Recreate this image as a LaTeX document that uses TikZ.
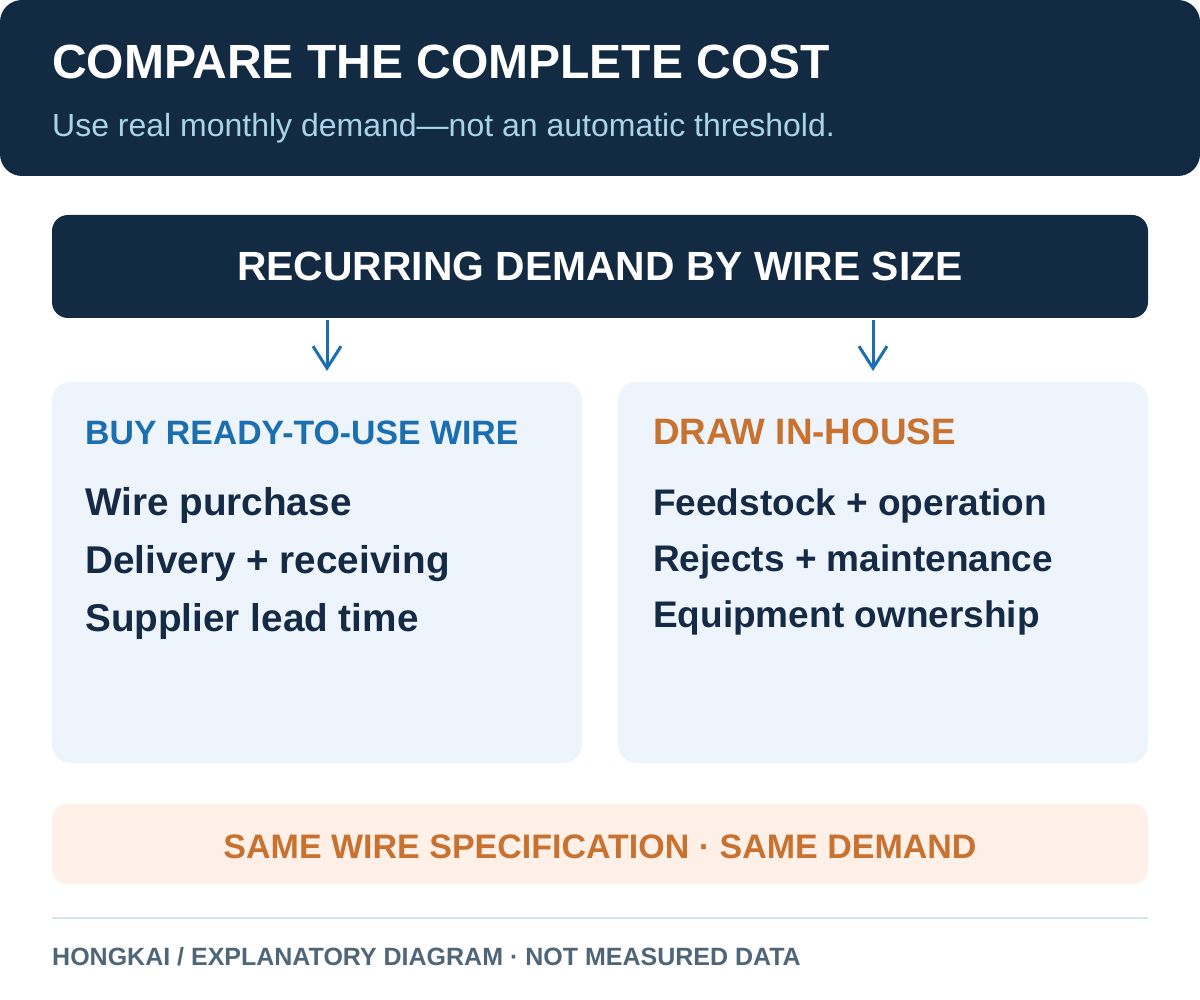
\documentclass[tikz,border=0pt]{standalone}
\usepackage{fontspec}
\setmainfont{Liberation Sans}
\usetikzlibrary{arrows.meta}
\usetikzlibrary{positioning}
\definecolor{mnavy}{HTML}{132A43}
\definecolor{msub}{HTML}{A8D4EA}
\definecolor{mblue}{HTML}{1B6FB0}
\definecolor{morange}{HTML}{C87232}
\definecolor{mtext}{HTML}{152B45}
\definecolor{mpanel}{HTML}{EEF4FB}
\definecolor{mpeach}{HTML}{FEF0E6}
\definecolor{mrule}{HTML}{D6E4EE}
\definecolor{mfoot}{HTML}{4F6678}
\tikzset{
  box/.style={inner sep=0pt, rounded corners=#1},
  box/.default=18pt,
  lefttext/.style={anchor=base west, inner sep=0pt},
  midtext/.style={anchor=base, inner sep=0pt},
  item/.style={lefttext, text=mtext, font=\fontsize{#1}{40}\selectfont\bfseries},
  item/.default=37,
  flow/.style={-{Straight Barb[length=22pt,width=28pt,line width=3pt]}, line width=3pt, draw=mblue}
}

\begin{document}
\begin{tikzpicture}[x=1pt, y=-1pt]
    \useasboundingbox (0, 0) rectangle (1200, 1000);

    % header
    \node [box=22pt, fill=mnavy, minimum width=1200pt, minimum height=176pt] (head) at (600, 88) {};
    \node [lefttext, text=white, font=\fontsize{48}{50}\selectfont\bfseries] (title) at (52, 79) {COMPARE THE COMPLETE COST};
    \node [lefttext, text=msub, font=\fontsize{32}{36}\selectfont] (subtitle) at (52, 137) {Use real monthly demand—not an automatic threshold.};

    % demand band
    \node [box=16pt, fill=mnavy, minimum width=1096pt, minimum height=103pt] (demand) at (600, 266.5) {};
    \node [midtext, text=white, font=\fontsize{40.8}{44}\selectfont\bfseries] (demandtxt) at (600, 281) {RECURRING DEMAND BY WIRE SIZE};

    % two panels
    \node [box, fill=mpanel, minimum width=530pt, minimum height=381pt] (buy) at (317, 572.5) {};
    \node [box, fill=mpanel, minimum width=530pt, minimum height=381pt] (draw) at (883, 572.5) {};

    \node [lefttext, text=mblue, font=\fontsize{33.8}{36}\selectfont\bfseries] (buyhead) at (85, 444) {BUY READY-TO-USE WIRE};
    \node [item=38.7] (buy1) at (85, 515) {Wire purchase};
    \node [item=38.7] (buy2) at (85, 573) {Delivery + receiving};
    \node [item=38.7] (buy3) at (85, 631) {Supplier lead time};

    \node [lefttext, text=morange, font=\fontsize{36.8}{38}\selectfont\bfseries] (drawhead) at (653, 444) {DRAW IN-HOUSE};
    \node [item] (draw1) at (653, 515) {Feedstock + operation};
    \node [item] (draw2) at (653, 571) {Rejects + maintenance};
    \node [item] (draw3) at (653, 627) {Equipment ownership};

    % arrows from band to panels
    \coordinate (buyfrom) at (327, 320);
    \coordinate (buyto) at (327, 371);
    \coordinate (drawfrom) at (873, 320);
    \coordinate (drawto) at (873, 371);
    \draw [flow] (buyfrom) -- (buyto);
    \draw [flow] (drawfrom) -- (drawto);

    % common basis
    \node [box=16pt, fill=mpeach, minimum width=1096pt, minimum height=80pt] (same) at (600, 844) {};
    \node [midtext, text=morange, font=\fontsize{34}{36}\selectfont\bfseries] (sametxt) at (600, 858) {SAME WIRE SPECIFICATION · SAME DEMAND};

    % footer
    \coordinate (ruleL) at (52, 918);
    \coordinate (ruleR) at (1148, 918);
    \draw [mrule, line width=2.5pt] (ruleL) -- (ruleR);
    \node [lefttext, text=mfoot, font=\fontsize{25}{28}\selectfont\bfseries] (foot) at (52, 965) {HONGKAI / EXPLANATORY DIAGRAM · NOT MEASURED DATA};
\end{tikzpicture}
\end{document}
